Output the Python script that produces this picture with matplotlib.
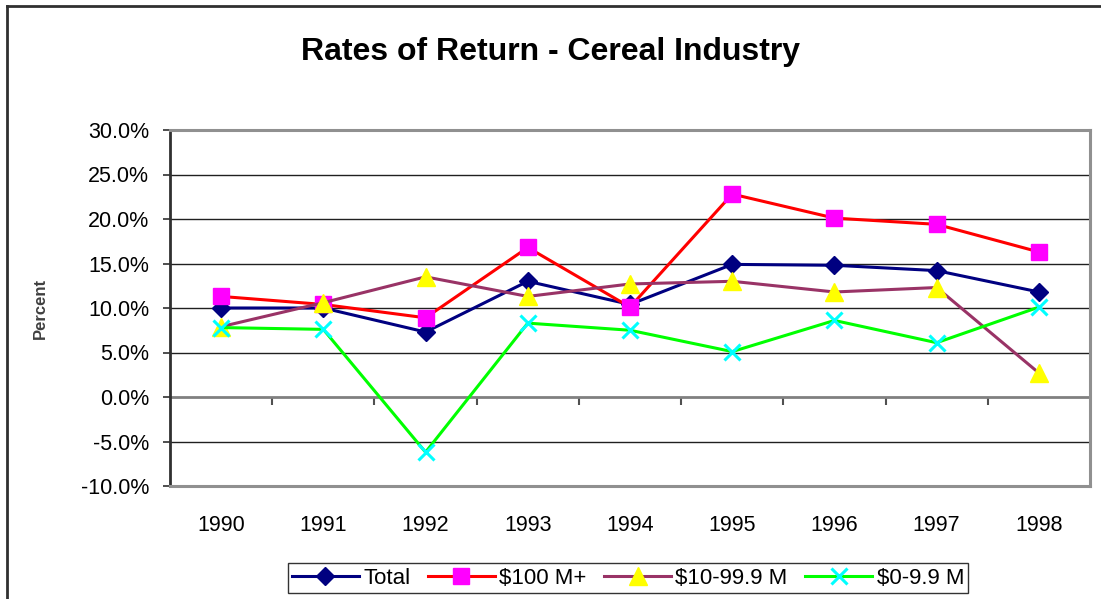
import matplotlib.pyplot as plt
import numpy as np
from matplotlib.lines import Line2D

plt.rcParams['font.family'] = ['Liberation Sans', 'DejaVu Sans']

years = ['1990', '1991', '1992', '1993', '1994', '1995', '1996', '1997', '1998']
total = [10.0, 10.0, 7.3, 13.0, 10.4, 14.9, 14.8, 14.2, 11.8]
big = [11.3, 10.4, 8.9, 16.8, 10.1, 22.8, 20.1, 19.4, 16.3]
mid = [7.9, 10.6, 13.5, 11.3, 12.7, 13.0, 11.8, 12.3, 2.7]
small = [7.8, 7.6, -6.2, 8.3, 7.5, 5.1, 8.6, 6.1, 10.1]
series_names = ['Total', '$100 M+', '$10-99.9 M', '$0-9.9 M']
y_ticks = [-10, -5, 0, 5, 10, 15, 20, 25, 30]

W, H = 1101, 599
fig = plt.figure(figsize=(W / 100, H / 100), dpi=100)

# outer chart border (left and top only visible)
fig.add_artist(Line2D([7 / W, 7 / W], [0, 1 - 6 / H], color='#303030', lw=2))
fig.add_artist(Line2D([7 / W, 1], [1 - 6 / H, 1 - 6 / H], color='#303030', lw=2))

ax = fig.add_axes([170 / W, 1 - 486 / H, 920 / W, 356 / H])
x = np.arange(len(years)) + 0.5

# gridlines
for v in y_ticks[1:-1]:
    if v == 0:
        ax.axhline(v, color='#808080', lw=2, zorder=1)
    else:
        ax.axhline(v, color='#202020', lw=1, zorder=1)

styles = [
    dict(color='#000080', marker='D', mfc='#000080', mec='#000080', ms=9),
    dict(color='#FF0000', marker='s', mfc='#FF00FF', mec='#FF00FF', ms=11),
    dict(color='#993366', marker='^', mfc='#FFFF00', mec='#FFFF00', ms=13),
    dict(color='#00FF00', marker='x', mfc='#00FFFF', mec='#00FFFF', ms=12, mew=2.2),
]
for vals, name, st in zip([total, big, mid, small], series_names, styles):
    ax.plot(x, vals, lw=2.2, label=name, zorder=3, clip_on=False, **st)

ax.set_xlim(0, len(years))
ax.set_ylim(-10, 30)
ax.set_yticks(y_ticks)
ax.set_yticklabels([f'{v:.1f}%' for v in y_ticks], fontsize=15.5)
ax.set_xticks(x)
ax.set_xticklabels(years, fontsize=15.5)
ax.tick_params(axis='x', length=0, pad=21)
ax.tick_params(axis='y', direction='out', length=5, width=1.2, color='#303030', pad=10)

for side in ['top', 'right', 'bottom']:
    ax.spines[side].set_color('#909090')
    ax.spines[side].set_linewidth(2.2)
ax.spines['left'].set_color('#303030')
ax.spines['left'].set_linewidth(2)

# category ticks on the zero line
sec = ax.secondary_xaxis(0.25)
sec.set_xticks(np.arange(1, len(years)))
sec.set_xticklabels([])
sec.tick_params(direction='out', length=6, width=1.5, color='#505050')
sec.spines['bottom'].set_visible(False)

ax.set_ylabel('Percent', fontsize=12, fontweight='bold', color='#404040', labelpad=24)

fig.suptitle('Rates of Return - Cereal Industry', fontsize=23, fontweight='bold',
             y=1 - 52 / H, va='center')

leg = fig.legend(loc='center', bbox_to_anchor=(628 / W, 1 - 578 / H), ncol=4,
                 fontsize=16, frameon=True, fancybox=False, edgecolor='black',
                 handlelength=3, handletextpad=0.2, columnspacing=0.8,
                 borderpad=0.2)
leg.get_frame().set_linewidth(1)

fig.savefig('out.png', dpi=100)
